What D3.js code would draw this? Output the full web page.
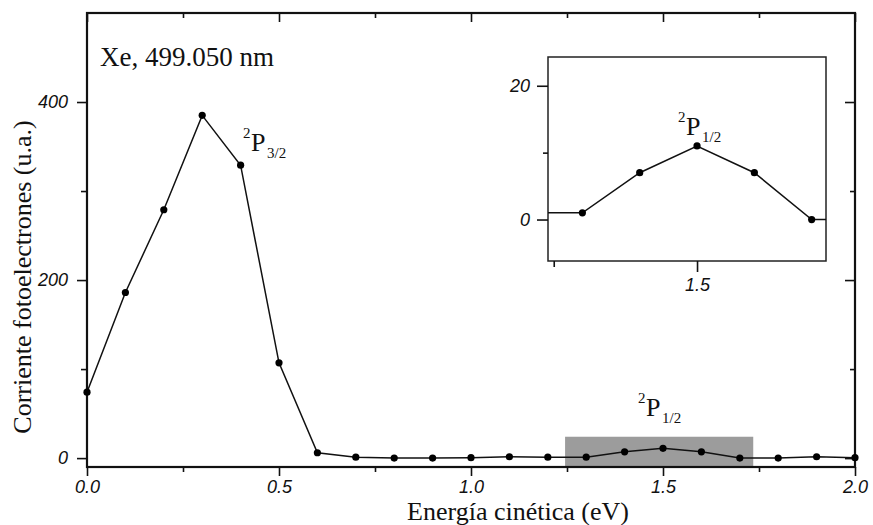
<!DOCTYPE html>
<html>
<head>
<meta charset="utf-8">
<script src="https://cdn.jsdelivr.net/npm/d3@7"></script>
<style>
  body { margin: 0; background: #fff; }
  svg { display: block; }
</style>
</head>
<body>
<div id="chart"></div>
<script>
// data
const energy = [0.0, 0.1, 0.2, 0.3, 0.4, 0.5, 0.6, 0.7, 0.8, 0.9, 1.0,
                1.1, 1.2, 1.3, 1.4, 1.5, 1.6, 1.7, 1.8, 1.9, 2.0]
const current = [74, 186, 279, 385, 329, 107, 6, 1, 0, 0, 0.5,
                 1.5, 1, 1, 7, 11, 7, 0, 0, 1.5, 0.5]

const xTicks = [0, 0.5, 1.0, 1.5, 2.0]
const xMinor = [0.25, 0.75, 1.25, 1.75]
const yTicks = [0, 200, 400]
const yMinor = [100, 300]
const insetXTicks = [1.5]
const insetXMinor = [1.25]
const insetYTicks = [0, 20]
const insetYMinor = [10]

// zoomed window shown in the inset
const windowX = [1.245, 1.735]
const windowY = [-10, 24]
const insetX = [1.24, 1.725]
const insetY = [-6.2, 24.3]

const W = 873, H = 525
const M = {LEFT: 87, RIGHT: 855, TOP: 13, BOTTOM: 467}
const INSET = {LEFT: 548, RIGHT: 826, TOP: 57, BOTTOM: 261}

const data = energy.map((e, i) => ({e: e, v: current[i]}))

const svg = d3.select("#chart").append("svg")
  .attr("width", W)
  .attr("height", H)

const x = d3.scaleLinear().domain([0, 2]).range([M.LEFT, M.RIGHT])
const y = d3.scaleLinear().domain([-10, 500]).range([M.BOTTOM, M.TOP])

const tickFont = g => g.selectAll("text")
  .attr("font-family", "Liberation Sans, Arial, sans-serif")
  .attr("font-style", "italic")
  .attr("font-size", 18)
  .attr("fill", "#111")

const cleanAxis = g => {
  g.select(".domain").remove()
  g.selectAll("line").attr("stroke", "#111").attr("stroke-width", 1.6)
}

// shaded window (drawn under the curve)
svg.append("rect")
  .attr("x", x(windowX[0]))
  .attr("y", y(windowY[1]))
  .attr("width", x(windowX[1]) - x(windowX[0]))
  .attr("height", y(windowY[0]) - y(windowY[1]))
  .attr("fill", "#9c9c9c")

// main axes
svg.append("g")
  .attr("transform", `translate(0, ${M.BOTTOM})`)
  .call(d3.axisBottom(x).tickValues(xTicks).tickSize(9).tickPadding(4).tickFormat(d3.format(".1f")))
  .call(cleanAxis).call(tickFont)
svg.append("g")
  .attr("transform", `translate(0, ${M.BOTTOM})`)
  .call(d3.axisBottom(x).tickValues(xMinor).tickSize(5).tickFormat(""))
  .call(cleanAxis)
svg.append("g")
  .attr("transform", `translate(0, ${M.TOP})`)
  .call(d3.axisBottom(x).tickValues(xTicks).tickSize(9).tickFormat(""))
  .call(cleanAxis)
svg.append("g")
  .attr("transform", `translate(0, ${M.TOP})`)
  .call(d3.axisBottom(x).tickValues(xMinor).tickSize(5).tickFormat(""))
  .call(cleanAxis)

svg.append("g")
  .attr("transform", `translate(${M.LEFT}, 0)`)
  .call(d3.axisLeft(y).tickValues(yTicks).tickSize(10).tickPadding(9))
  .call(cleanAxis).call(tickFont)
svg.append("g")
  .attr("transform", `translate(${M.LEFT}, 0)`)
  .call(d3.axisLeft(y).tickValues(yMinor).tickSize(6).tickFormat(""))
  .call(cleanAxis)
svg.append("g")
  .attr("transform", `translate(${M.RIGHT}, 0)`)
  .call(d3.axisLeft(y).tickValues(yTicks).tickSize(10).tickFormat(""))
  .call(cleanAxis)
svg.append("g")
  .attr("transform", `translate(${M.RIGHT}, 0)`)
  .call(d3.axisLeft(y).tickValues(yMinor).tickSize(5).tickFormat(""))
  .call(cleanAxis)

svg.append("rect")
  .attr("x", M.LEFT)
  .attr("y", M.TOP)
  .attr("width", M.RIGHT - M.LEFT)
  .attr("height", M.BOTTOM - M.TOP)
  .attr("fill", "none")
  .attr("stroke", "#111")
  .attr("stroke-width", 2.2)

// main curve
const line = d3.line().x(d => x(d.e)).y(d => y(d.v))
svg.append("path")
  .datum(data)
  .attr("d", line)
  .attr("fill", "none")
  .attr("stroke", "#111")
  .attr("stroke-width", 1.5)

svg.append("g").selectAll("circle")
  .data(data)
  .enter().append("circle")
    .attr("cx", d => x(d.e))
    .attr("cy", d => y(d.v))
    .attr("r", 3.6)
    .attr("fill", "#000")

// inset
const ix = d3.scaleLinear().domain(insetX).range([INSET.LEFT, INSET.RIGHT])
const iy = d3.scaleLinear().domain(insetY).range([INSET.BOTTOM, INSET.TOP])

svg.append("defs").append("clipPath")
  .attr("id", "inset-clip")
  .append("rect")
    .attr("x", INSET.LEFT)
    .attr("y", INSET.TOP)
    .attr("width", INSET.RIGHT - INSET.LEFT)
    .attr("height", INSET.BOTTOM - INSET.TOP)

svg.append("rect")
  .attr("x", INSET.LEFT)
  .attr("y", INSET.TOP)
  .attr("width", INSET.RIGHT - INSET.LEFT)
  .attr("height", INSET.BOTTOM - INSET.TOP)
  .attr("fill", "#fff")
  .attr("stroke", "#222")
  .attr("stroke-width", 1.5)

svg.append("g")
  .attr("transform", `translate(0, ${INSET.BOTTOM})`)
  .call(d3.axisBottom(ix).tickValues(insetXTicks).tickSize(11).tickPadding(6).tickFormat(d3.format(".1f")))
  .call(cleanAxis).call(tickFont)
svg.append("g")
  .attr("transform", `translate(0, ${INSET.BOTTOM})`)
  .call(d3.axisBottom(ix).tickValues(insetXMinor).tickSize(6).tickFormat(""))
  .call(cleanAxis)
svg.append("g")
  .attr("transform", `translate(${INSET.LEFT}, 0)`)
  .call(d3.axisLeft(iy).tickValues(insetYTicks).tickSize(11).tickPadding(7))
  .call(cleanAxis).call(tickFont)
svg.append("g")
  .attr("transform", `translate(${INSET.LEFT}, 0)`)
  .call(d3.axisLeft(iy).tickValues(insetYMinor).tickSize(5).tickFormat(""))
  .call(cleanAxis)

const insetData = data.filter(d => d.e >= 1.15 && d.e <= 1.85)
const inner = svg.append("g").attr("clip-path", "url(#inset-clip)")
inner.append("path")
  .datum(insetData)
  .attr("d", d3.line().x(d => ix(d.e)).y(d => iy(d.v)))
  .attr("fill", "none")
  .attr("stroke", "#111")
  .attr("stroke-width", 1.5)
inner.selectAll("circle")
  .data(insetData)
  .enter().append("circle")
    .attr("cx", d => ix(d.e))
    .attr("cy", d => iy(d.v))
    .attr("r", 3.6)
    .attr("fill", "#000")

// labels
const SERIF = "Liberation Serif, Times New Roman, serif"

function term(px, py, sub) {
  const g = svg.append("g").attr("font-family", SERIF).attr("fill", "#111")
  g.append("text").attr("x", px - 8).attr("y", py - 13).attr("font-size", 15).text("2")
  g.append("text").attr("x", px).attr("y", py).attr("font-size", 26).text("P")
  g.append("text").attr("x", px + 16).attr("y", py + 7).attr("font-size", 15).text(sub)
}
term(251, 151, "3/2")
term(646, 416, "1/2")
term(686, 135, "1/2")

svg.append("text")
  .attr("x", 100)
  .attr("y", 66)
  .attr("font-family", SERIF)
  .attr("font-size", 27)
  .attr("fill", "#111")
  .text("Xe, 499.050 nm")

svg.append("text")
  .attr("x", 518)
  .attr("y", 520)
  .attr("text-anchor", "middle")
  .attr("font-family", SERIF)
  .attr("font-size", 26)
  .attr("fill", "#111")
  .text("Energía cinética (eV)")

svg.append("text")
  .attr("transform", "translate(31, 277) rotate(-90)")
  .attr("text-anchor", "middle")
  .attr("font-family", SERIF)
  .attr("font-size", 26)
  .attr("fill", "#111")
  .text("Corriente fotoelectrones (u.a.)")
</script>
</body>
</html>
